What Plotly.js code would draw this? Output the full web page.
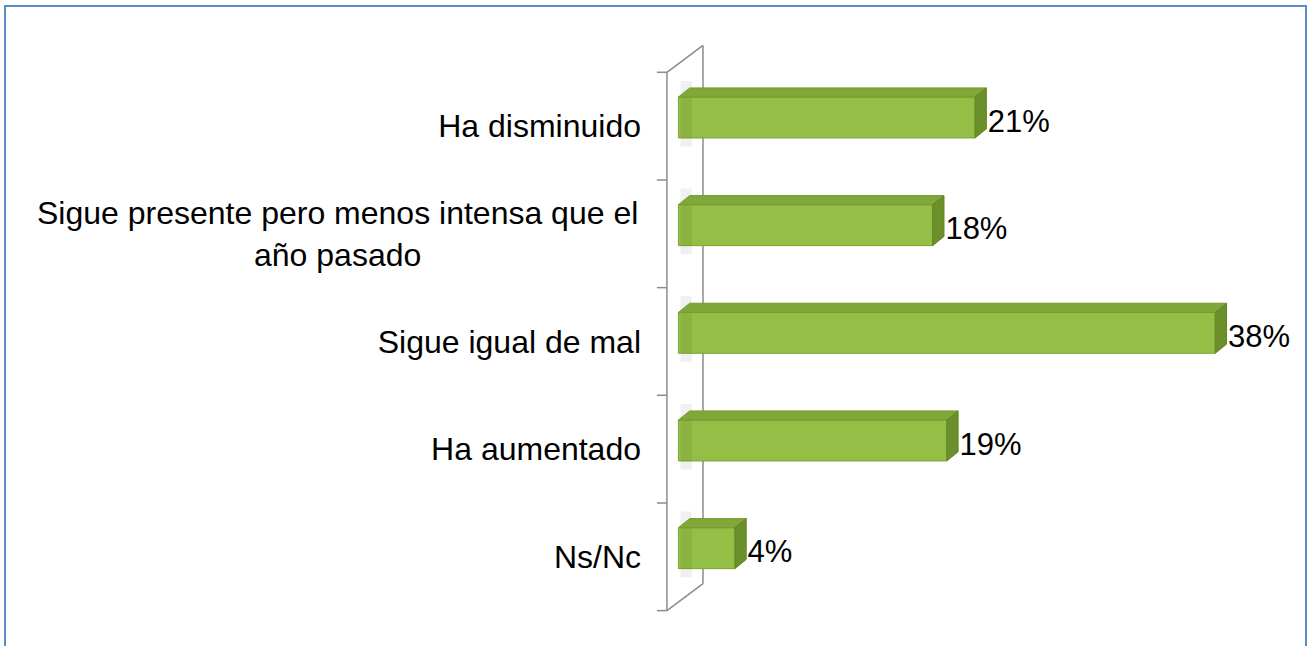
<!DOCTYPE html>
<html>
<head>
<meta charset="utf-8">
<script src="https://cdn.plot.ly/plotly-3.0.1.min.js"></script>
<style>
  body { margin: 0; background: #fff; }
  #chart { width: 1312px; height: 646px; }
  #frame {
    position: absolute; left: 4px; top: 5px; width: 1303px; height: 700px;
    box-sizing: border-box; border: 2px solid #5a8cc8; pointer-events: none;
  }
</style>
</head>
<body>
<div id="chart"></div>
<div id="frame"></div>
<script>
var categories = ['Ha disminuido', 'Sigue presente pero menos intensa que el<br>año pasado', 'Sigue igual de mal', 'Ha aumentado', 'Ns/Nc'];
var values = [21, 18, 38, 19, 4];
var valueLabels = ['21%', '18%', '38%', '19%', '4%'];

document.addEventListener('DOMContentLoaded', function() {

  // 3d look: depth of each bar in axis units
  var DX = 0.8, DY = 0.085, OFF = -0.08, H = 0.38;
  var idx = categories.map(function(c, i) { return i; });
  var font = 'Liberation Sans, Arial, sans-serif';

  var topX = [], topY = [], sideX = [], sideY = [], shX = [], shY = [];
  values.forEach(function(v, i) {
    var t = i + OFF - H / 2;
    topX.push(0, v, v + DX, DX, 0, null);
    topY.push(t, t, t - DY, t - DY, t, null);
    sideX.push(v, v + DX, v + DX, v, v, null);
    sideY.push(t, t - DY, t - DY + H, t + H, t, null);
    shX.push(0.15, 0.95, 0.95, 0.15, 0.15, null);
    shY.push(t - 0.15, t - 0.15, t + H + 0.08, t + H + 0.08, t - 0.15, null);
  });

  var data = [
    {
      x: shX, y: shY, mode: 'lines', fill: 'toself',
      fillcolor: 'rgba(0,0,0,0.06)', line: {width: 0}, hoverinfo: 'skip'
    },
    {
      x: values, y: idx.map(function(i) { return i + OFF; }),
      type: 'bar', orientation: 'h', width: H,
      marker: {color: '#93bf47', line: {color: '#7ea536', width: 1}},
      hoverinfo: 'skip'
    },
    {
      x: topX, y: topY, mode: 'lines', fill: 'toself',
      fillcolor: '#80a737', line: {color: '#759c30', width: 1}, hoverinfo: 'skip'
    },
    {
      x: sideX, y: sideY, mode: 'lines', fill: 'toself',
      fillcolor: '#6b8f2a', line: {color: '#638626', width: 1}, hoverinfo: 'skip'
    },
    {
      x: values.map(function(v) { return v + DX + 0.1; }),
      y: idx.map(function(i) { return i + OFF + 0.06; }),
      mode: 'text', text: valueLabels, textposition: 'middle right',
      textfont: {family: font, size: 31, color: '#000'},
      cliponaxis: false, hoverinfo: 'skip'
    }
  ];

  // wall of the 3d chart
  var wall = {type: 'line', xref: 'x', yref: 'y', layer: 'below', line: {color: '#8c8c8c', width: 1.5}};
  var shapes = [
    Object.assign({x0: -0.81, x1: -0.81, y0: -0.5, y1: 4.5}, wall),
    Object.assign({x0: 1.74, x1: 1.74, y0: -0.75, y1: 4.25}, wall),
    Object.assign({x0: -0.81, x1: 1.74, y0: -0.5, y1: -0.75}, wall),
    Object.assign({x0: -0.81, x1: 1.74, y0: 4.5, y1: 4.25}, wall)
  ];
  for (var k = 0; k <= categories.length; k++) {
    shapes.push(Object.assign({x0: -1.52, x1: -0.81, y0: k - 0.5, y1: k - 0.5}, wall));
  }

  // multi-line labels get centred lines, like the original
  var ticktext = categories.map(function(c) { return c.indexOf('<br>') < 0 ? c : ''; });
  var annotations = [];
  categories.forEach(function(c, i) {
    if (c.indexOf('<br>') >= 0) {
      annotations.push({
        text: c, xref: 'paper', yref: 'y', x: -10 / 650, y: i,
        xanchor: 'right', yanchor: 'middle', align: 'center', showarrow: false,
        font: {family: font, size: 32, color: '#000'}
      });
    }
  });

  var config = {
    responsive: false,
    displayModeBar: false
  }
  var layout = {
    width: 1312, height: 646,
    margin: {l: 650, r: 12, t: 40, b: 26},
    paper_bgcolor: '#fff', plot_bgcolor: 'rgba(0,0,0,0)',
    showlegend: false,
    xaxis: {range: [-2.01, 44], showgrid: false, zeroline: false, showticklabels: false, ticks: ''},
    yaxis: {
      range: [4.587, -0.8], tickvals: idx, ticktext: ticktext,
      showgrid: false, zeroline: false, ticks: '', ticklabelstandoff: 8,
      tickfont: {family: font, size: 32, color: '#000'}
    },
    shapes: shapes,
    annotations: annotations
  };

  Plotly.newPlot('chart', data, layout, config);
});
</script>
</body>
</html>
